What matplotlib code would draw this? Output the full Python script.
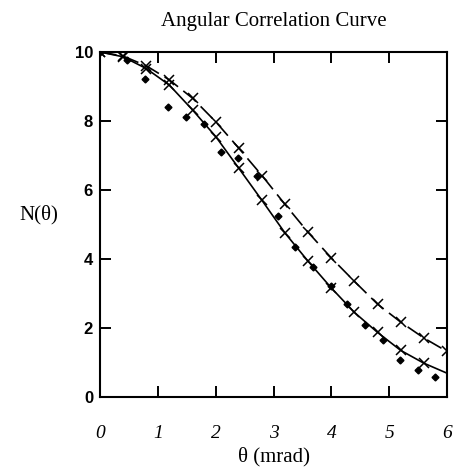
import matplotlib.pyplot as plt
import numpy as np

# solid fit: crosses
solid_x = [0.0, 0.4, 0.8, 1.2, 1.6, 2.0, 2.4, 2.8, 3.2, 3.6, 4.0, 4.4, 4.8, 5.2, 5.6, 6.0]
solid_y = [10.0, 9.86, 9.52, 9.04, 8.32, 7.55, 6.63, 5.70, 4.75, 3.93, 3.16, 2.45, 1.87, 1.35, 0.98, 0.69]

# dashed fit: crosses
dash_x = [0.0, 0.4, 0.8, 1.2, 1.6, 2.0, 2.4, 2.8, 3.2, 3.6, 4.0, 4.4, 4.8, 5.2, 5.6, 6.0]
dash_y = [10.0, 9.88, 9.60, 9.19, 8.66, 7.98, 7.21, 6.42, 5.58, 4.77, 4.03, 3.35, 2.69, 2.17, 1.71, 1.32]

# measured points
meas_x = [0.0, 0.46, 0.78, 1.18, 1.48, 1.79, 2.09, 2.39, 2.71, 3.08, 3.37, 3.68, 3.99, 4.27, 4.58, 4.89, 5.19, 5.49, 5.80]
meas_y = [10.0, 9.77, 9.22, 8.40, 8.11, 7.91, 7.11, 6.92, 6.41, 5.25, 4.36, 3.78, 3.22, 2.70, 2.09, 1.66, 1.08, 0.77, 0.59]

xticks = [0, 1, 2, 3, 4, 5, 6]
yticks = [0, 2, 4, 6, 8, 10]

fig = plt.figure(figsize=(4.53, 4.68), dpi=100)
ax = fig.add_axes([0.2208, 0.1517, 0.766, 0.7372])

ax.plot(solid_x, solid_y, color='black', lw=1.2, marker='x', ms=7, mew=1.1,
        markevery=list(range(len(solid_x) - 1)))
ax.plot(dash_x, dash_y, color='black', lw=1.2, dashes=(10, 4), marker='x', ms=7, mew=1.1)
ax.plot(meas_x, meas_y, 'D', color='black', ms=3.5, ls='none')

ax.set_xlim(0, 6)
ax.set_ylim(0, 10)

ax.set_xticks(xticks)
ax.set_yticks(yticks)
ax.tick_params(direction='in', length=8, width=1.4, top=True, right=True)
ax.tick_params(axis='x', pad=20)
ax.tick_params(axis='y', pad=5)
for lab in ax.get_xticklabels():
    lab.set_family('Liberation Serif')
    lab.set_style('italic')
    lab.set_fontsize(14)
for lab in ax.get_yticklabels():
    lab.set_family('Liberation Sans')
    lab.set_weight('bold')
    lab.set_fontsize(12)
for s in ax.spines.values():
    s.set_linewidth(1.5)

ax.set_xlabel('θ (mrad)', family='Liberation Serif', fontsize=15, labelpad=4)
ax.set_ylabel('N(θ)', family='Liberation Serif', fontsize=15, rotation=0, labelpad=26)
ax.set_title('Angular Correlation Curve', family='Liberation Serif', fontsize=15, pad=19)

fig.savefig('out.png', dpi=100)
